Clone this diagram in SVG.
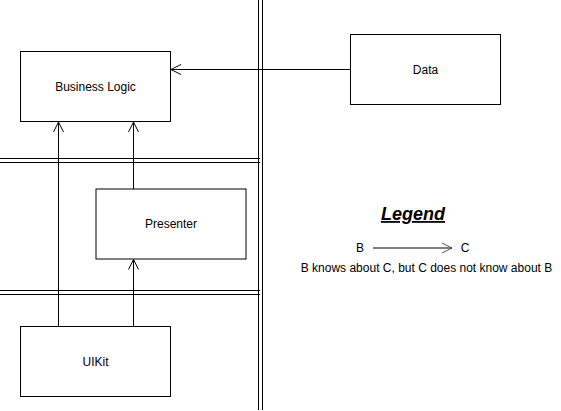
<svg xmlns="http://www.w3.org/2000/svg" width="561" height="411" viewBox="0 0 561 411">
<defs>
<style>
.box{fill:#fff;stroke:#000;stroke-width:1}
.lbl{font-family:"Liberation Sans",Arial,sans-serif;font-size:12px;fill:#000;text-anchor:middle;dominant-baseline:central}
.sep{stroke:#000;stroke-width:1;fill:none}
.edge{stroke:#000;stroke-width:1;fill:none;marker-end:url(#open)}
</style>
<marker id="open" viewBox="0 0 12 12" refX="11" refY="6" markerWidth="12" markerHeight="12" markerUnits="userSpaceOnUse" orient="auto">
<path d="M1,1 L11,6 L1,11" fill="none" stroke="#000" stroke-width="1"/>
</marker>
<marker id="openg" viewBox="0 0 12 12" refX="11" refY="6" markerWidth="12" markerHeight="12" markerUnits="userSpaceOnUse" orient="auto">
<path d="M1,1 L11,6 L1,11" fill="none" stroke="#555" stroke-width="1"/>
</marker>
</defs>
<rect width="561" height="411" fill="#fff"/>
<g id="separators">
<line class="sep" x1="258.5" y1="0" x2="258.5" y2="410"/>
<line class="sep" x1="262.5" y1="0" x2="262.5" y2="410"/>
<line class="sep" x1="0" y1="158.5" x2="260" y2="158.5"/>
<line class="sep" x1="0" y1="162.5" x2="260" y2="162.5"/>
<line class="sep" x1="0" y1="290.5" x2="260" y2="290.5"/>
<line class="sep" x1="0" y1="294.5" x2="260" y2="294.5"/>
</g>
<g id="connectors">
<line class="edge" x1="350" y1="69.5" x2="171" y2="69.5"/>
<line class="edge" x1="58.5" y1="326.5" x2="58.5" y2="122"/>
<line class="edge" x1="133.5" y1="189" x2="133.5" y2="122"/>
<line class="edge" x1="133.5" y1="326.5" x2="133.5" y2="259.5"/>
</g>
<g id="business-logic">
<rect class="box" x="20.5" y="51.5" width="150" height="70"/>
<text class="lbl" x="95.5" y="86.5">Business Logic</text>
</g>
<g id="data">
<rect class="box" x="350.5" y="34.5" width="150" height="70"/>
<text class="lbl" x="425.5" y="69.5">Data</text>
</g>
<g id="presenter">
<rect class="box" x="96" y="189" width="150" height="70"/>
<text class="lbl" x="171" y="224">Presenter</text>
</g>
<g id="uikit">
<rect class="box" x="20.5" y="326.5" width="150" height="70"/>
<text class="lbl" x="95.5" y="361.5">UIKit</text>
</g>
<g id="legend">
<text x="413" y="220" font-family="&quot;Liberation Sans&quot;,Arial,sans-serif" font-size="18" font-weight="bold" font-style="italic" text-decoration="underline" text-anchor="middle" fill="#000">Legend</text>
<text x="360" y="248" class="lbl">B</text>
<line x1="373" y1="248" x2="452" y2="248" stroke="#555" stroke-width="1.3" marker-end="url(#openg)"/>
<text x="465" y="248" class="lbl">C</text>
<text x="426.5" y="268" class="lbl">B knows about C, but C does not know about B</text>
</g>
</svg>
